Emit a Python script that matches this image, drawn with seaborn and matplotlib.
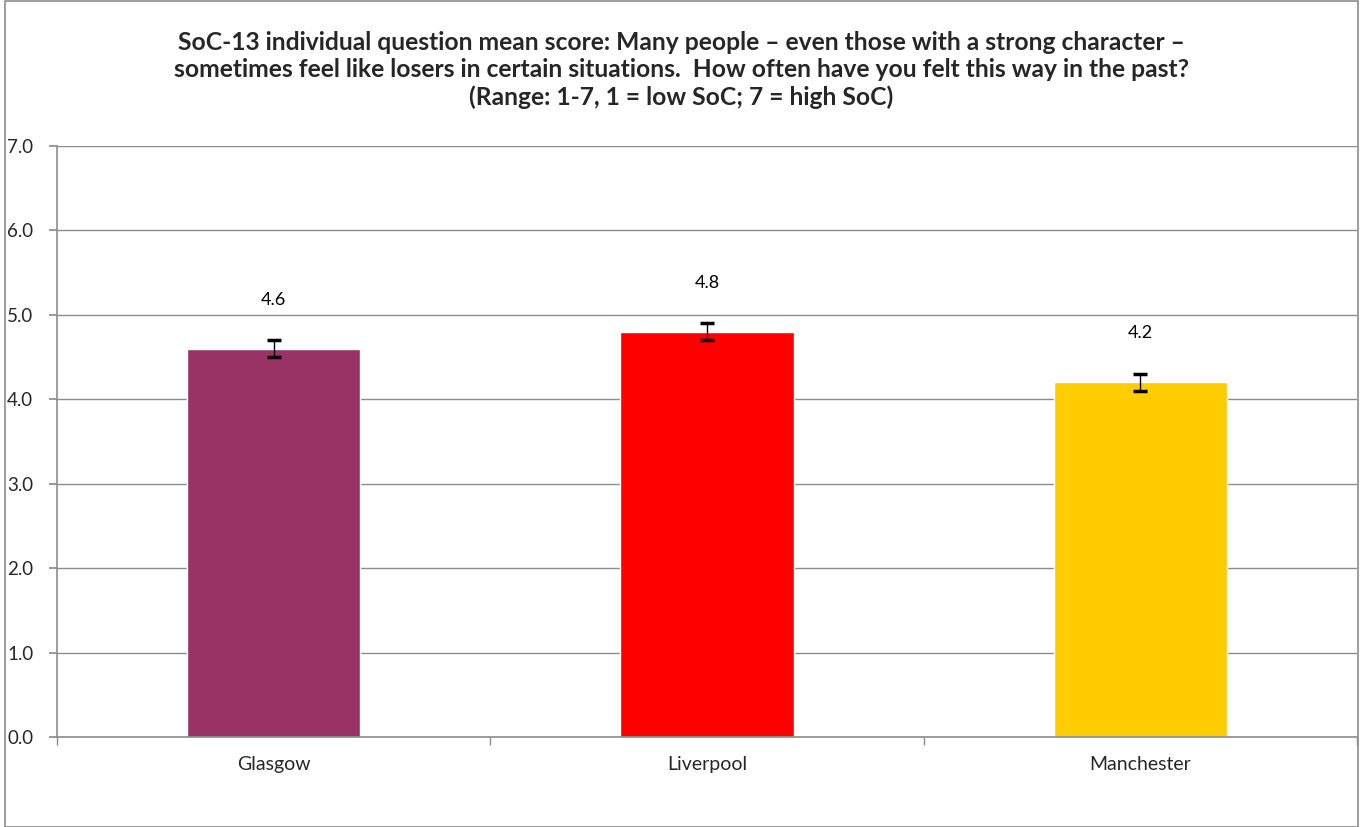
import matplotlib
matplotlib.use("Agg")
import matplotlib.pyplot as plt
import seaborn as sns
import pandas as pd

# data
cities = ["Glasgow", "Liverpool", "Manchester"]
mean_scores = [4.6, 4.8, 4.2]
error_half = [0.1, 0.1, 0.1]
bar_colors = ["#993366", "#FF0000", "#FFCC00"]
y_ticks = [0.0, 1.0, 2.0, 3.0, 4.0, 5.0, 6.0, 7.0]

df = pd.DataFrame({"city": cities, "score": mean_scores})

sns.set_theme(style="white")
plt.rcParams["font.family"] = ["Lato", "DejaVu Sans"]

fig = plt.figure(figsize=(13.63, 8.27), dpi=100)
ax = fig.add_axes([0.0418, 0.1088, 0.9538, 0.7147])

sns.barplot(data=df, x="city", y="score", hue="city", palette=bar_colors,
            width=0.4, legend=False, ax=ax, saturation=1)

ax.errorbar(range(len(cities)), mean_scores, yerr=error_half, fmt="none",
            ecolor="black", elinewidth=1, capsize=5, capthick=2.5)

for i, v in enumerate(mean_scores):
    ax.text(i, v + 0.58, f"{v:.1f}", ha="center", va="center", fontsize=13, color="black")

ax.set_ylim(0, 7)
ax.set_xlim(-0.5, 2.5)
ax.set_yticks(y_ticks)
ax.set_yticklabels([f"{t:.1f}" for t in y_ticks], fontsize=13.5)
ax.yaxis.grid(True, color="#8c8c8c", linewidth=1)
ax.set_axisbelow(True)
ax.set_xlabel("")
ax.set_ylabel("")
ax.tick_params(axis="x", labelsize=14, pad=14, length=0)
ax.tick_params(axis="y", left=True, length=6, color="#8c8c8c", pad=11)

for side in ["top", "right"]:
    ax.spines[side].set_visible(False)
for side in ["left", "bottom"]:
    ax.spines[side].set_color("#8c8c8c")
    ax.spines[side].set_linewidth(1.2)

# category boundary tick marks below the x axis
ax.set_xticks([-0.5, 0.5, 1.5, 2.5], minor=True)
ax.tick_params(axis="x", which="minor", bottom=True, length=6, color="#8c8c8c")

fig.suptitle("SoC-13 individual question mean score: Many people \u2013 even those with a strong character \u2013\n"
             "sometimes feel like losers in certain situations.  How often have you felt this way in the past?\n"
             "(Range: 1-7, 1 = low SoC; 7 = high SoC)",
             fontsize=17.7, fontweight="bold", y=0.963, linespacing=1.22)

# outer chart border
fig.patches.append(plt.Rectangle((0.004, 0.0), 0.992, 0.999, transform=fig.transFigure,
                                 fill=False, edgecolor="#8c8c8c", linewidth=1.2))

fig.savefig("out.png", dpi=100)
